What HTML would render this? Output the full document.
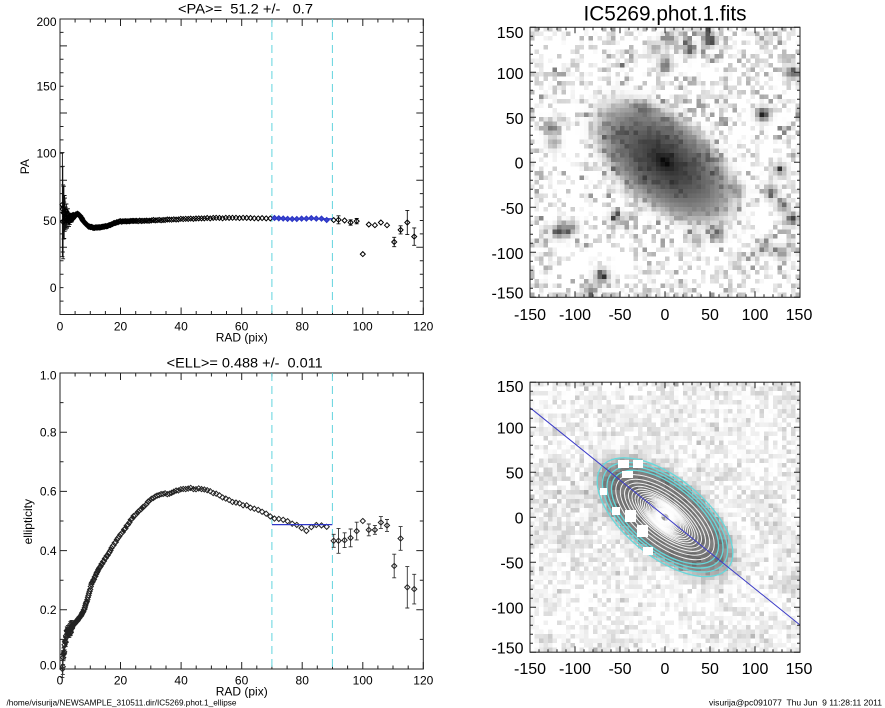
<!DOCTYPE html>
<html><head><meta charset="utf-8">
<style>
html,body{margin:0;padding:0;background:#fff;}
body{width:885px;height:708px;overflow:hidden;position:relative;}
canvas{position:absolute;image-rendering:pixelated;}
svg{position:absolute;left:0;top:0;}
text{font-family:"Liberation Sans",Arial,sans-serif;fill:#000;white-space:pre;}
</style></head><body>
<canvas id="c1" width="60" height="60" style="left:530px;top:27.3px;width:270px;height:270px"></canvas>
<canvas id="c2" width="60" height="60" style="left:530px;top:382.2px;width:270px;height:270px"></canvas>
<svg width="885" height="708" viewBox="0 0 885 708">
<g id="ell" fill="none" stroke="#fff" stroke-width="1" stroke-opacity="0.9"></g>
<g id="cy" fill="none" stroke="#66d9dc" stroke-width="1.3"></g>
<g fill="#fff">
<rect x="618" y="460" width="11" height="8"/><rect x="633" y="460" width="10" height="8"/>
<rect x="622" y="471" width="11" height="7"/><rect x="600" y="488" width="7" height="7"/>
<rect x="612" y="507" width="8" height="8"/><rect x="625" y="510" width="11" height="12"/>
<rect x="637" y="525" width="11" height="12"/><rect x="643" y="547" width="10" height="8"/>
</g>
<line x1="530" y1="407.7" x2="800" y2="625" stroke="#3c3cc8" stroke-width="1"/>
<g id="frames" fill="none" stroke="#222" stroke-width="1"></g>
<g stroke="#62d4de" stroke-width="1" stroke-dasharray="8,5">
<line x1="271.9" y1="19" x2="271.9" y2="314.5"/><line x1="332.4" y1="19" x2="332.4" y2="314.5"/>
<line x1="271.9" y1="373" x2="271.9" y2="669"/><line x1="332.4" y1="373" x2="332.4" y2="669"/>
</g>
<g id="data"></g>

<text x="245.5" y="13.5" font-size="14" text-anchor="middle" textLength="135" lengthAdjust="spacingAndGlyphs">&lt;PA&gt;=  51.2 +/-   0.7</text>
<g font-size="12" text-anchor="end">
<text x="56.5" y="26">200</text><text x="56.5" y="90.5">150</text><text x="56.5" y="157.7">100</text>
<text x="56.5" y="224.9">50</text><text x="56.5" y="292">0</text>
</g>
<g font-size="12" text-anchor="middle">
<text x="60" y="330.5">0</text><text x="120.5" y="330.5">20</text><text x="181.1" y="330.5">40</text>
<text x="241.6" y="330.5">60</text><text x="302.2" y="330.5">80</text><text x="362.7" y="330.5">100</text><text x="423.3" y="330.5">120</text>
<text x="241.7" y="341.5">RAD (pix)</text>
<text transform="translate(29,166.7) rotate(-90)">PA</text>
</g>

<text x="244.7" y="367.5" font-size="14" text-anchor="middle" textLength="156" lengthAdjust="spacingAndGlyphs">&lt;ELL&gt;= 0.488 +/-  0.011</text>
<g font-size="12" text-anchor="end">
<text x="56.5" y="379.3">1.0</text><text x="56.5" y="436.5">0.8</text><text x="56.5" y="495.7">0.6</text>
<text x="56.5" y="554.9">0.4</text><text x="56.5" y="614.1">0.2</text><text x="56.5" y="669.3">0.0</text>
</g>
<g font-size="12" text-anchor="middle">
<text x="60" y="684.5">0</text><text x="120.5" y="684.5">20</text><text x="181.1" y="684.5">40</text>
<text x="241.6" y="684.5">60</text><text x="302.2" y="684.5">80</text><text x="362.7" y="684.5">100</text><text x="423.3" y="684.5">120</text>
<text x="241.7" y="695.5">RAD (pix)</text>
<text transform="translate(32,521.7) rotate(-90)">ellipticity</text>
</g>

<text x="665" y="20.5" font-size="21" text-anchor="middle" textLength="163" lengthAdjust="spacingAndGlyphs">IC5269.phot.1.fits</text>
<g font-size="16" text-anchor="end">
<text x="523.5" y="37.8">150</text><text x="523.5" y="79.1">100</text><text x="523.5" y="123.8">50</text>
<text x="523.5" y="168.5">0</text><text x="523.5" y="213.8">-50</text><text x="523.5" y="258.8">-100</text><text x="523.5" y="298.5">-150</text>
</g>
<g font-size="16" text-anchor="middle">
<text x="530" y="320">-150</text><text x="575" y="320">-100</text><text x="620" y="320">-50</text><text x="665" y="320">0</text>
<text x="710" y="320">50</text><text x="755" y="320">100</text><text x="799" y="320">150</text>
</g>

<g font-size="16" text-anchor="end">
<text x="523.5" y="391.8">150</text><text x="523.5" y="433.3">100</text><text x="523.5" y="478.3">50</text>
<text x="523.5" y="523.3">0</text><text x="523.5" y="568.3">-50</text><text x="523.5" y="613.3">-100</text><text x="523.5" y="653.3">-150</text>
</g>
<g font-size="16" text-anchor="middle">
<text x="530" y="674">-150</text><text x="575" y="674">-100</text><text x="620" y="674">-50</text><text x="665" y="674">0</text>
<text x="710" y="674">50</text><text x="755" y="674">100</text><text x="799" y="674">150</text>
</g>

<text x="6.5" y="705.5" font-size="8.5" textLength="230" lengthAdjust="spacingAndGlyphs">/home/visurija/NEWSAMPLE_310511.dir/IC5269.phot.1_ellipse</text>
<text x="709" y="705.5" font-size="8.5" textLength="173" lengthAdjust="spacingAndGlyphs">visurija@pc091077  Thu Jun  9 11:28:11 2011</text>
</svg>
<script>
(function(){
function rng(a){return function(){a|=0;a=a+0x6D2B79F5|0;var t=Math.imul(a^a>>>15,1|a);t=t+Math.imul(t^t>>>7,61|t)^t;return((t^t>>>14)>>>0)/4294967296;};}
function interp(k,r){if(r<=k[0][0])return k[0][1];for(var i=1;i<k.length;i++){if(r<=k[i][0]){var t=(r-k[i-1][0])/(k[i][0]-k[i-1][0]);return k[i-1][1]+t*(k[i][1]-k[i-1][1]);}}return k[k.length-1][1];}
var paK=[[0.8,56],[1.2,52],[2,54],[3,51],[4,52.5],[5,54],[5.8,55],[6.8,53],[8,48.5],[9.5,45.5],[11,44.7],[13,44.8],[15,45.5],[17,47],[18.5,48.5],[20,49.3],[25,49.6],[30,50],[40,51],[50,51.7],[58,52],[65,51.5],[70,51.7],[74,51.4],[76,50.7],[78,51.3],[82,51.6],[86,51.4],[88.5,50],[90,50.5]];
var elK=[[0.8,0.0],[1.2,0.04],[1.6,0.087],[2.2,0.12],[3,0.13],[3.8,0.142],[5,0.155],[6.6,0.176],[7.7,0.193],[8.8,0.227],[10.5,0.29],[13.2,0.345],[16,0.39],[18.7,0.435],[24.2,0.514],[29.7,0.571],[33,0.59],[36.3,0.593],[39.6,0.607],[43,0.61],[47.4,0.608],[51.8,0.59],[57.2,0.565],[61.7,0.551],[67.2,0.529],[70,0.512],[72,0.505],[74,0.505],[75.6,0.498],[77.4,0.488],[79,0.487],[80.5,0.468],[82,0.468],[83.7,0.485],[86,0.485],[88.4,0.48],[89.5,0.48]];
var R=rng(12345);
function f(v){return v.toFixed(1);}
function dm(x,y,s){return 'M'+f(x)+' '+f(y-s)+'l'+s+' '+s+'l'+(-s)+' '+s+'l'+(-s)+' '+(-s)+'z';}
function eb(x,y1,y2){return 'M'+f(x)+' '+f(y1)+'V'+f(y2)+'M'+f(x-2)+' '+f(y1)+'h4M'+f(x-2)+' '+f(y2)+'h4';}
var PX=function(v){return 60+v*3.0275;}, PY=function(v){return 314.5-(v+20)*1.3432;}, EY=function(v){return 669-v*296;};
var rs=[];for(var r=0.8;r<89.6;r+=Math.max(0.12,0.02*r))rs.push(r);
var paB='',paBl='',paE='',elB='',elE='';
rs.forEach(function(r){
  var nz=r<5?6*Math.exp(-(r-0.8)/2.5)*(R()*2-1):(R()*2-1)*0.25;
  var p=interp(paK,r)+nz;
  var x=PX(r),y=PY(p);
  if(r>=69.5)paBl+=dm(x,y,2.5);else paB+=dm(x,y,2.5);
  var pe=Math.min(42,42*Math.pow(0.8/r,2))*(0.8+0.4*R());
  if(pe*1.3432>2.5)paE+=eb(x,PY(p-pe),PY(p+pe));
  var en=r<4?0.015*(R()*2-1):(R()*2-1)*0.002;
  var e=Math.max(0,interp(elK,r)+en);
  var ey=EY(e);
  elB+=dm(x,ey,2.6);
  var ee=r<5?0.025*(0.8/r)+0.004:0;
  if(ee*296>2.5)elE+=eb(x,EY(e-ee),EY(e+ee));
});
var paM=[[90.4,50.3,0.8],[92,50.5,3],[94,50,1.5],[96,48.5,2],[98,49.5,2],[100,25,0.4],[102,47,0.8],[104,46.5,0.8],[106,48.5,0.8],[108,46.5,0.8],[110.4,34,3.5],[112.5,43,3],[114.7,48.5,9],[117,38,6.5]];
var elM=[[90.4,0.433,0.022],[92,0.433,0.042],[94,0.435,0.025],[96,0.443,0.03],[98,0.466,0.03],[100,0.5,0.005],[102,0.47,0.02],[104,0.47,0.015],[106,0.495,0.02],[108,0.485,0.02],[110.4,0.348,0.04],[112.5,0.441,0.04],[114.7,0.276,0.07],[117,0.27,0.05]];
paM.forEach(function(d){var x=PX(d[0]);paB+=dm(x,PY(d[1]),2.5);if(d[2]*1.3432>2.5)paE+=eb(x,PY(d[1]-d[2]),PY(d[1]+d[2]));});
elM.forEach(function(d){var x=PX(d[0]);elB+=dm(x,EY(d[1]),2.6);if(d[2]*296>2.5)elE+=eb(x,EY(d[1]-d[2]),EY(d[1]+d[2]));});
var h='';
h+='<path d="'+paE+'" stroke="#111" stroke-width="0.9" fill="none"/>';
h+='<path d="'+paB+'" stroke="#000" stroke-width="1" fill="none"/>';
h+='<line x1="271.9" y1="'+f(PY(51.2))+'" x2="332.4" y2="'+f(PY(51.2))+'" stroke="#3038c8" stroke-width="1.5"/>';
h+='<path d="'+paBl+'" stroke="#2a34c4" stroke-width="1.1" fill="#3a44d0"/>';
h+='<path d="'+elE+'" stroke="#333" stroke-width="0.9" fill="none"/>';
h+='<path d="'+elB+'" stroke="#222" stroke-width="1" fill="none"/>';
h+='<line x1="271.9" y1="'+f(EY(0.488))+'" x2="332.4" y2="'+f(EY(0.488))+'" stroke="#3038c8" stroke-width="1.3"/>';
document.getElementById('data').innerHTML=h;

function ticks(x0,x1,y0,y1,xa,xb,nx,xMajEvery,ya,yb,ny,yMajEvery,L,l){
  var d='',k,len;
  for(k=0;k<=nx;k++){var x=x0+k/nx*(x1-x0);len=(k%xMajEvery===0)?L:l;d+='M'+f(x)+' '+y1+'v'+(-len)+'M'+f(x)+' '+y0+'v'+len;}
  for(k=0;k<=ny;k++){var y=y1-k/ny*(y1-y0);len=(k%yMajEvery===0)?L:l;d+='M'+x0+' '+f(y)+'h'+len+'M'+x1+' '+f(y)+'h'+(-len);}
  return d;
}
var fr='';
fr+='<rect x="60" y="19" width="363.3" height="295.5"/>';
fr+='<path d="'+ticks(60,423.3,19,314.5,0,120,24,4,-20,200,22,5,7,3.5)+'"/>';
fr+='<rect x="60" y="373" width="363.3" height="296"/>';
fr+='<path d="'+ticks(60,423.3,373,669,0,120,24,4,0,1,10,2,7,3.5)+'"/>';
fr+='<rect x="530" y="27.3" width="270" height="270"/>';
fr+='<path d="'+ticks(530,800,27.3,297.3,-150,150,30,5,-150,150,30,5,6,3)+'"/>';
fr+='<rect x="530" y="382.2" width="270" height="270"/>';
fr+='<path d="'+ticks(530,800,382.2,652.2,-150,150,30,5,-150,150,30,5,6,3)+'"/>';
document.getElementById('frames').innerHTML=fr;

var es='';
for(var a=5;a<68;a*=1.1){var e=interp(elK,a),pa=interp(paK,a);
  es+='<ellipse cx="0" cy="0" rx="'+(a*0.9).toFixed(2)+'" ry="'+(a*(1-e)*0.9).toFixed(2)+'" transform="translate(665 517.2) rotate('+(90-pa).toFixed(1)+')"/>';}
document.getElementById('ell').innerHTML=es;
var cs='';
[71,77,83,90].forEach(function(a){cs+='<ellipse cx="0" cy="0" rx="'+(a*0.9).toFixed(2)+'" ry="'+(a*0.49*0.9).toFixed(2)+'" transform="translate(665 517.2) rotate(38.8)"/>';});
document.getElementById('cy').innerHTML=cs;

function img(id,seed,opt){
  var cv=document.getElementById(id),ctx=cv.getContext('2d'),N=60,im=ctx.createImageData(N,N),Rr=rng(seed);
  var G=function(){var u=Rr()||1e-9,v=Rr();return Math.sqrt(-2*Math.log(u))*Math.cos(2*Math.PI*v);};
  var M=13,cg=[];for(var i=0;i<M*M;i++)cg.push(G());
  var cl=function(i,j){var fx=i/(N-1)*(M-1),fy=j/(N-1)*(M-1),x0=Math.floor(fx),y0=Math.floor(fy),x1=Math.min(M-1,x0+1),y1=Math.min(M-1,y0+1),tx=fx-x0,ty=fy-y0;
    return (cg[y0*M+x0]*(1-tx)+cg[y0*M+x1]*tx)*(1-ty)+(cg[y1*M+x0]*(1-tx)+cg[y1*M+x1]*tx)*ty;};
  for(var j=0;j<N;j++)for(var i2=0;i2<N;i2++){
    var x=-150+5*(i2+0.5),y=150-5*(j+0.5);
    var a=0.779*x-0.627*y,b=0.627*x+0.779*y;
    var r=Math.sqrt(a*a+(b/opt.q)*(b/opt.q));
    var g=opt.gal(r);
    var n=opt.n0+opt.ns*G()+opt.cs*cl(i2,j);if(n<0)n=0;
    var s=0;opt.stars.forEach(function(st){var dx=x-st[0],dy=y-st[1];s+=st[2]*Math.exp(-(dx*dx+dy*dy)/50);});
    var D=g+(n+s)*(1-g);if(D>1)D=1;
    var v=Math.round(255*(1-D)),k=4*(j*N+i2);
    im.data[k]=im.data[k+1]=im.data[k+2]=v;im.data[k+3]=255;
  }
  ctx.putImageData(im,0,0);
}
img('c1',777,{q:0.55,n0:0.0,ns:0.17,cs:0.08,
  gal:function(r){return (0.76*Math.exp(-(r/100)*(r/100))+0.3*Math.exp(-r/9))/(1+Math.exp((r-90)/6));},
  stars:[[50,136,0.75],[5,137,0.5],[0,108,0.55],[26,126,0.4],[-11,126,0.35],[141,99,0.6],[109,53,0.85],[-126,38,0.55],[-124,21,0.35],[-117,-77,0.7],[-104,-73,0.45],[-70,-127,0.7],[-83,-142,0.45],[118,-33,0.55],[128,-9,0.45],[141,-64,0.55],[131,-49,0.45],[80,-31,0.4],[59,-81,0.45],[-24,60,0.4],[-54,-62,0.4],[35,-86,0.35],[111,-94,0.4],[130,-101,0.45]]});
img('c2',4242,{q:0.48,n0:0.06,ns:0.07,cs:0.04,
  gal:function(r){return 0.5/(1+Math.exp((r-88)/5))*(1-0.75*Math.exp(-(r/14)*(r/14)));},
  stars:[]});
})();
</script>
</body></html>
